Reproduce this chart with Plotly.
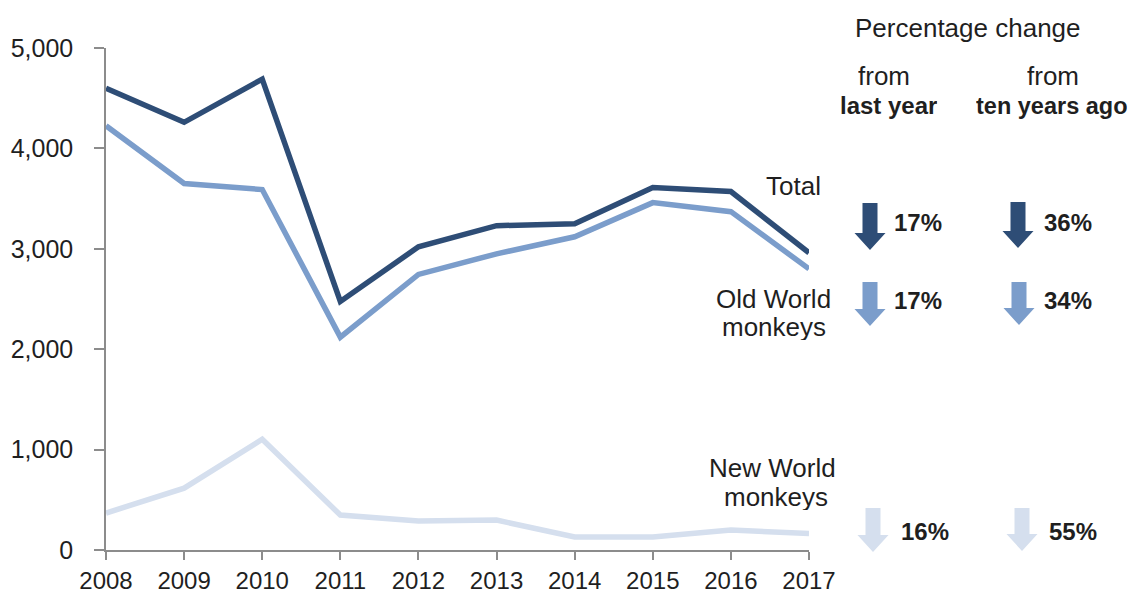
import plotly.graph_objects as go

years = [2008, 2009, 2010, 2011, 2012, 2013, 2014, 2015, 2016, 2017]
total = [4600, 4260, 4690, 2475, 3020, 3230, 3250, 3610, 3570, 2960]
old_world = [4225, 3650, 3590, 2120, 2745, 2950, 3120, 3460, 3370, 2800]
new_world = [368, 616, 1103, 348, 288, 298, 129, 129, 199, 165]

series_names = ["Total", "Old World monkeys", "New World monkeys"]
series_values = [total, old_world, new_world]
colors = ["#2E4D76", "#7B9DCB", "#D5DFEE"]
pct_last_year = ["17%", "17%", "16%"]
pct_ten_years = ["36%", "34%", "55%"]

# page has an 8px body margin; figure sized to fit the 1138x595 window
OFF = 8
W, H = 1138 - OFF, 595 - OFF
# plot area in page pixels
PL, PR, PT, PB = 106, 809, 48, 550
L, R, T, B = PL - OFF, PR - OFF, PT - OFF, PB - OFF

fig = go.Figure()
for name, vals, col in zip(series_names[::-1], series_values[::-1], colors[::-1]):
    fig.add_trace(go.Scatter(x=years, y=vals, mode="lines", name=name,
                             line=dict(color=col, width=5.5), hoverinfo="x+y+name"))

def px(x):
    return (x - PL) / (PR - PL)

def py(y):
    return (PB - y) / (PB - PT)

def arrow(cx, top, tip, col):
    sw, hw = 7.5, 15.5
    hy = tip - 17
    pts = [(cx - sw, top), (cx + sw, top), (cx + sw, hy), (cx + hw, hy), (cx, tip),
           (cx - hw, hy), (cx - sw, hy)]
    path = "M " + " L ".join(f"{px(a):.5f},{py(b):.5f}" for a, b in pts) + " Z"
    return dict(type="path", xref="paper", yref="paper", path=path,
                fillcolor=col, line=dict(width=0))

shapes = []
rows = [((870, 203, 250), (1018, 202, 248)),
        ((870, 282, 326), (1019, 282, 325)),
        ((873, 508, 552), (1022, 508, 551))]
for row, col in zip(rows, colors):
    for cx, top, tip in row:
        shapes.append(arrow(cx, top, tip, col))

font_family = "Liberation Sans, Arial, sans-serif"
txt = "#1F1F1F"
ann = []

def add_text(x, y, text, size=26, bold=False, xanchor="center", height=None):
    a = dict(xref="paper", yref="paper", x=px(x), y=py(y),
             text=f"<b>{text}</b>" if bold else text,
             showarrow=False, xanchor=xanchor, yanchor="middle",
             font=dict(size=size, color=txt, family=font_family))
    if height:
        a["height"] = height
    ann.append(a)

add_text(968, 28, "Percentage change", size=26)
add_text(884, 76, "from", height=27)
add_text(888, 105, "last year", size=24, bold=True, height=27)
add_text(1053, 76, "from", height=27)
add_text(1052, 105, "ten years ago", size=23.5, bold=True, height=27)
add_text(823, 186, "Total", xanchor="right")
add_text(773, 298, "Old World", height=27)
add_text(774, 326, "monkeys", height=27)
add_text(772, 467, "New World", height=27)
add_text(776, 496, "monkeys", height=27)

pct_pos = [((892, 222), (1042, 222)), ((892, 300), (1042, 300)), ((899, 531), (1047, 531))]
for (p1, p2), a, b in zip(pct_pos, pct_last_year, pct_ten_years):
    add_text(p1[0], p1[1], a, size=24, bold=True, xanchor="left")
    add_text(p2[0], p2[1], b, size=24, bold=True, xanchor="left")

fig.update_layout(
    width=W, height=H,
    margin=dict(l=L, r=W - R, t=T, b=H - B, pad=0, autoexpand=False),
    paper_bgcolor="white", plot_bgcolor="white",
    showlegend=False,
    font=dict(family=font_family, size=25, color=txt),
    shapes=shapes, annotations=ann,
    xaxis=dict(range=[2008, 2017], tickmode="array", tickvals=years,
               ticktext=[str(y) for y in years], showgrid=False, zeroline=False,
               showline=True, linecolor="#8C8C8C", linewidth=1.5,
               ticks="outside", ticklen=8, tickcolor="#8C8C8C", tickwidth=1.5,
               ticklabelstandoff=0, automargin=False,
               tickfont=dict(size=24, color=txt), fixedrange=True),
    yaxis=dict(range=[0, 5000], tickvals=[0, 1000, 2000, 3000, 4000, 5000],
               ticktext=["0", "1,000", "2,000", "3,000", "4,000", "5,000"],
               showgrid=False, zeroline=False, showline=True, linecolor="#8C8C8C",
               linewidth=1.5, ticks="outside", ticklen=10, tickcolor="#8C8C8C",
               tickwidth=1.5, ticklabelstandoff=16, automargin=False,
               tickfont=dict(size=25, color=txt), fixedrange=True),
)
fig.update_traces(cliponaxis=False)

fig.write_html("out.html")
